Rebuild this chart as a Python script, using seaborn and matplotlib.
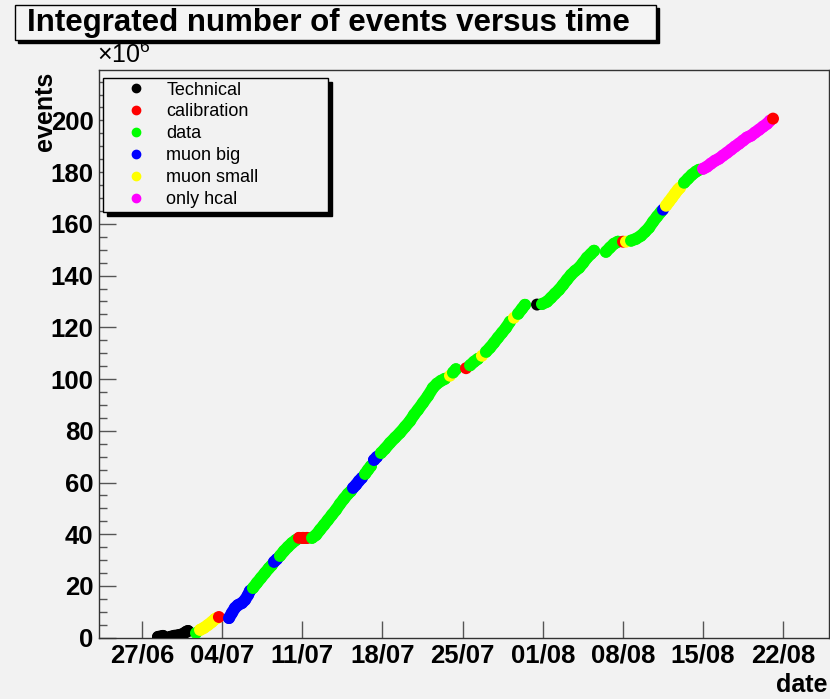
import pandas as pd
import matplotlib
matplotlib.use("Agg")
import matplotlib.pyplot as plt
import matplotlib.dates as mdates
import matplotlib.patches as mpatches
from matplotlib.lines import Line2D
from matplotlib.ticker import MultipleLocator
import seaborn as sns

# ------------------------------------------------------------
# data: days after 27/06, integrated events (x10^6)
# ------------------------------------------------------------
days = [
    1.40, 1.83, 2.45, 2.79, 3.23, 3.58, 3.84, 4.02,
    4.72,
    5.07, 5.41, 5.76, 6.11, 6.38, 6.55,
    6.72,
    7.60, 7.86, 8.12, 8.38, 8.73, 9.00, 9.26, 9.43,
    9.69, 10.04, 10.39, 10.74, 11.09, 11.35,
    11.53, 11.79,
    12.05, 12.40, 12.75, 13.10, 13.45,
    13.71, 14.06, 14.41,
    14.85, 15.20, 15.55, 15.90, 16.24, 16.59, 16.94, 17.29, 17.64, 17.99, 18.25,
    18.43, 18.69, 18.95, 19.21,
    19.48, 19.74, 20.00,
    20.26, 20.52,
    20.87, 21.22, 21.66, 22.10, 22.53, 22.97, 23.41, 23.76, 24.10, 24.54, 24.98,
    25.41, 25.76, 26.11, 26.46,
    26.90,
    27.16, 27.42,
    28.30,
    28.65, 29.00, 29.34,
    29.69,
    30.04, 30.39, 30.74, 31.09, 31.44, 31.79, 32.14,
    32.49,
    32.84, 33.19, 33.45,
    34.50,
    34.93, 35.37, 35.72, 36.07, 36.42, 36.77, 37.12, 37.47, 37.82, 38.17, 38.52,
    38.86, 39.21, 39.48,
    40.52, 40.87, 41.22, 41.57,
    42.01,
    42.27,
    42.71, 43.14, 43.58, 43.93, 44.28, 44.63, 44.98, 45.33,
    45.50,
    45.76, 46.03, 46.29, 46.55, 46.81, 46.99,
    47.34, 47.69, 48.03, 48.38, 48.65,
    49.00, 49.34, 49.69, 50.04, 50.39, 50.74, 51.09, 51.44, 51.79, 52.14, 52.49,
    52.84, 53.19, 53.54, 53.89, 54.24, 54.59, 54.85,
    55.11,
]
events = [
    0.3, 0.7, 0.3, 0.7, 1.0, 1.4, 2.2, 2.6,
    1.8,
    3.0, 3.8, 4.9, 6.1, 7.2, 7.6,
    8.0,
    7.6, 9.6, 11.5, 12.6, 13.4, 14.6, 16.5, 18.1,
    19.2, 21.2, 23.1, 25.0, 26.9, 28.1,
    29.3, 30.4,
    31.6, 33.5, 35.1, 36.6, 37.8,
    38.6, 38.6, 38.6,
    38.6, 39.7, 41.7, 43.6, 45.5, 47.5, 49.4, 51.7, 53.7, 55.6, 56.7,
    57.9, 59.1, 60.6, 61.8,
    63.3, 64.9, 66.4,
    68.7, 69.9,
    71.4, 73.0, 75.3, 77.3, 79.2, 81.5, 83.8, 86.2, 88.1, 90.8, 93.5,
    96.6, 98.2, 99.3, 100.1,
    101.3,
    102.5, 103.8,
    104.2,
    105.3, 106.7, 107.8,
    109.0,
    110.5, 112.1, 114.0, 116.0, 117.9, 119.8, 122.2,
    123.7,
    125.2, 127.2, 128.7,
    128.8,
    129.0, 129.9, 131.4, 133.0, 134.5, 136.4, 138.4, 140.3, 141.8, 143.0, 144.9,
    146.9, 148.4, 149.6,
    149.2, 150.8, 152.3, 153.1,
    153.1,
    153.1,
    153.5, 154.2, 155.4, 156.9, 158.5, 160.8, 162.8, 164.7,
    165.5,
    167.0, 168.6, 170.1, 171.7, 173.2, 174.0,
    175.9, 177.5, 179.0, 180.2, 180.9,
    181.3, 182.1, 183.3, 184.4, 185.2, 186.4, 187.5, 188.7, 189.9, 191.0, 192.2,
    193.4, 194.1, 195.3, 196.4, 197.6, 198.7, 199.9,
    200.7,
]
run_type = (
    ["Technical"] * 8
    + ["data"]
    + ["muon small"] * 6
    + ["calibration"]
    + ["muon big"] * 8
    + ["data"] * 6
    + ["muon big"] * 2
    + ["data"] * 5
    + ["calibration"] * 3
    + ["data"] * 11
    + ["muon big"] * 4
    + ["data"] * 3
    + ["muon big"] * 2
    + ["data"] * 15
    + ["muon small"]
    + ["data"] * 2
    + ["calibration"]
    + ["data"] * 3
    + ["muon small"]
    + ["data"] * 7
    + ["muon small"]
    + ["data"] * 3
    + ["Technical"]
    + ["data"] * 14
    + ["data"] * 4
    + ["calibration"]
    + ["muon small"]
    + ["data"] * 8
    + ["muon big"]
    + ["muon small"] * 6
    + ["data"] * 5
    + ["only hcal"] * 18
    + ["calibration"]
)

categories = ["Technical", "calibration", "data", "muon big", "muon small", "only hcal"]
colors = ["#000000", "#ff0000", "#00ff00", "#0000ff", "#ffff00", "#ff00ff"]

tick_dates = ["2008-06-27", "2008-07-04", "2008-07-11", "2008-07-18", "2008-07-25",
              "2008-08-01", "2008-08-08", "2008-08-15", "2008-08-22"]
tick_labels = ["27/06", "04/07", "11/07", "18/07", "25/07", "01/08", "08/08", "15/08", "22/08"]
y_ticks = [0, 20, 40, 60, 80, 100, 120, 140, 160, 180, 200]

# ------------------------------------------------------------
# table + runs (a new run starts at a type change or a time gap)
# ------------------------------------------------------------
start = pd.Timestamp("2008-06-27")
df = pd.DataFrame({"day": days, "events": events, "type": run_type})
df["date"] = start + pd.to_timedelta(df["day"], unit="D")
new_run = (df["type"] != df["type"].shift()) | (df["day"].diff() > 0.6)
df["run"] = new_run.cumsum()

bg = "#f2f2f2"
sns.set_style("ticks", {"axes.facecolor": bg, "figure.facecolor": bg})
plt.rcParams["font.family"] = ["Liberation Sans", "DejaVu Sans"]
plt.rcParams["font.sans-serif"] = ["Liberation Sans"]
plt.rcParams["mathtext.fontset"] = "custom"
plt.rcParams["mathtext.rm"] = "Liberation Sans"
plt.rcParams["text.color"] = "black"
plt.rcParams["xtick.labelcolor"] = "black"
plt.rcParams["ytick.labelcolor"] = "black"

fig = plt.figure(figsize=(8.3, 6.99), dpi=100)
fig.patch.set_facecolor(bg)
ax = fig.add_axes([0.1193, 0.0877, 0.8795, 0.8122])
ax.set_facecolor(bg)

palette = dict(zip(categories, colors))
sns.lineplot(data=df, x="date", y="events", hue="type", hue_order=categories,
             units="run", estimator=None, sort=False, palette=palette,
             linewidth=8.6, solid_capstyle="round", solid_joinstyle="round",
             legend=False, ax=ax)
sns.scatterplot(data=df, x="date", y="events", hue="type", hue_order=categories,
                palette=palette, s=74, linewidth=0, legend=False, ax=ax, zorder=3)

# ------------------------------------------------------------
# axes in ROOT look
# ------------------------------------------------------------
ax.set_xlim(start - pd.Timedelta(days=3.75), start + pd.Timedelta(days=60))
ax.set_ylim(0, 219.5)
ax.set_xticks(mdates.date2num(pd.to_datetime(tick_dates)))
ax.set_xticklabels(tick_labels)
ax.set_yticks(y_ticks)
ax.yaxis.set_minor_locator(MultipleLocator(5))
ax.tick_params(axis="both", which="major", direction="in", length=12, width=1,
               color="#555555", labelsize=18.5, pad=4)
ax.tick_params(axis="y", which="minor", direction="in", length=6, width=1, color="#555555")
ax.set_xlabel("")
ax.set_ylabel("")
for lab in ax.get_xticklabels() + ax.get_yticklabels():
    lab.set_fontweight("bold")
for sp in ax.spines.values():
    sp.set_color("#333333")
    sp.set_linewidth(1)

handles = [Line2D([], [], marker="o", linestyle="", color=c, markersize=6) for c in colors]
leg = ax.legend(handles, categories, loc="upper left",
                bbox_to_anchor=(0.1241, 0.8884 - 135 / 699, 0.2711, 135 / 699),
                bbox_transform=fig.transFigure, mode="expand", borderaxespad=0,
                fancybox=False, edgecolor="black", facecolor=bg, framealpha=1,
                shadow={"ox": 3, "oy": -3, "color": "black", "alpha": 1},
                prop={"size": 13, "weight": "normal"}, handlelength=3.3,
                handletextpad=0.0, borderpad=0.2, labelspacing=0.27)
leg.get_frame().set_linewidth(1)

# title pave with shadow
fig.add_artist(mpatches.Rectangle((15 / 830 + 0.004, 1 - 40 / 699 - 0.005), 641 / 830, 35 / 699,
                                  transform=fig.transFigure, facecolor="black", edgecolor="black"))
fig.add_artist(mpatches.Rectangle((15 / 830, 1 - 40 / 699), 641 / 830, 35 / 699,
                                  transform=fig.transFigure, facecolor="#f4f4f4",
                                  edgecolor="black", linewidth=1))
fig.text(0.396, 0.967, "Integrated number of events versus time", ha="center", va="center",
         fontsize=22.5, weight="bold")

fig.text(0.117, 0.9027, r"$\times10^{6}$", ha="left", va="bottom", fontsize=18)
fig.text(0.054, 0.897, "events", rotation=90, ha="center", va="top", fontsize=18, weight="bold")
fig.text(0.997, 0.02, "date", ha="right", va="center", fontsize=18, weight="bold")

fig.savefig("out.png", dpi=100, facecolor=bg)
